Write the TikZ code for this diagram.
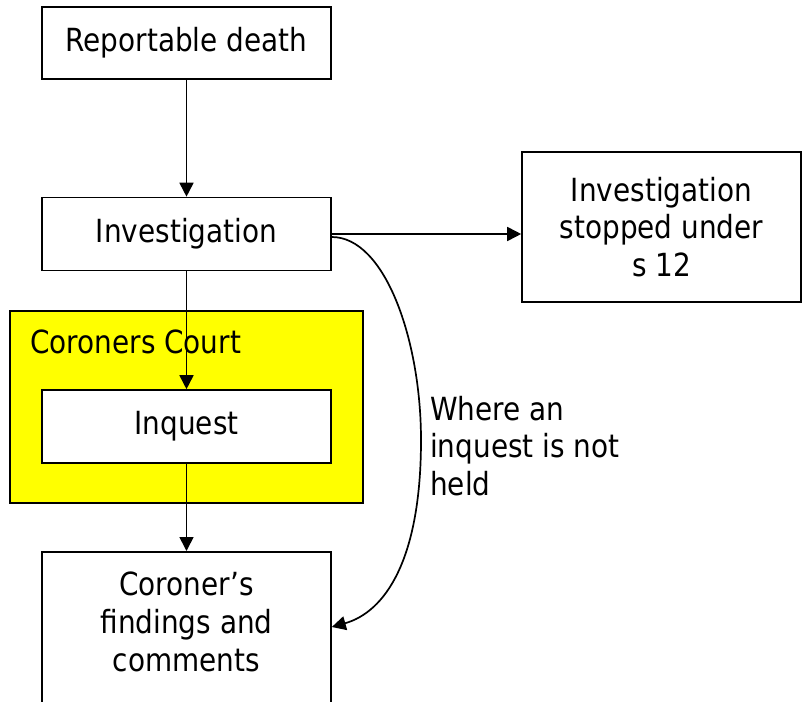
\documentclass[tikz,border=0pt]{standalone}
\usepackage{fontspec}
\setmainfont{DejaVu Sans}[FakeStretch=0.875]
\usetikzlibrary{arrows.meta}
\definecolor{courtyellow}{RGB}{255,255,0}
\tikzset{
  box/.style={draw=black, line width=1.6bp, fill=white, minimum width=289bp, inner sep=0pt},
  txt/.style={align=center, inner sep=0pt, font=\fontsize{32}{38}\selectfont},
  lbl/.style={align=left, inner sep=0pt, font=\fontsize{32}{38}\selectfont},
  conn/.style={line width=1.7bp, -{Triangle[length=14bp,width=14bp]}}
}
\begin{document}
\begin{tikzpicture}[x=1bp, y=-1bp]
\useasboundingbox (0,0) rectangle (802,702);
% yellow court box
\node[draw=black, line width=1.6bp, fill=courtyellow, minimum width=353bp, minimum height=192bp, inner sep=0pt] (court) at (186.5,407) {};
\node[lbl, anchor=base west] (courtlbl) at (30,353) {Coroners Court};
% boxes
\node[box, minimum height=72bp, txt] (rd) at (186.5,43) {Reportable death};
\node[box, minimum height=73bp, txt] (inv) at (186.5,234) {Investigation};
\node[box, minimum height=73bp, txt] (inq) at (186.5,426.5) {Inquest};
\node[box, minimum width=279bp, minimum height=150bp, txt] (stop) at (661.5,227) {Investigation\\stopped under\\s 12};
\node[box, anchor=north, minimum height=220bp] (find) at (186.5,551) {};
\node[txt] (findtxt) at (186.5,622) {Coroner’s\\findings and\\comments};
\node[lbl, anchor=west] (where) at (430,446) {Where an\\inquest is not\\held};
% connectors
\draw[conn] (rd.south) -- (inv.north);
\draw[conn] (inv.south) -- (inq.north);
\draw[conn] (inq.south) -- (find.north);
\draw[conn] (inv.east) -- (inv.east -| stop.west);
\coordinate (cs) at ([yshift=-3bp]inv.east);
\coordinate (ce) at (find.east |- 0,627);
\draw[conn] (cs) .. controls (385,237) and (421,340) .. (421,440)
  .. controls (421,560) and (385,612) .. (ce);
\end{tikzpicture}
\end{document}
